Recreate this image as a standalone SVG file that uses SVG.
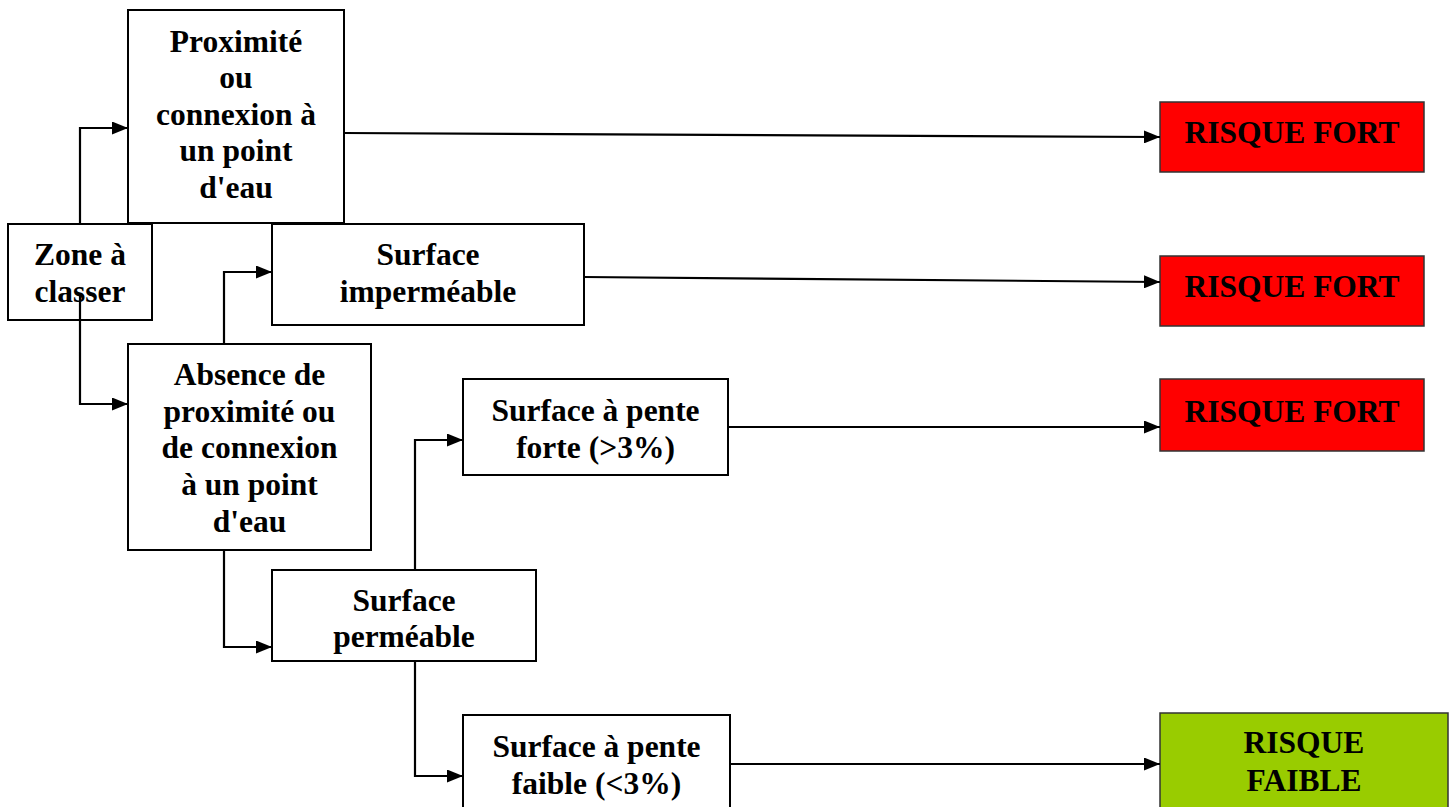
<svg xmlns="http://www.w3.org/2000/svg" width="1454" height="807" viewBox="0 0 1454 807">
<defs>
<marker id="arr" markerWidth="16" markerHeight="13" refX="16" refY="6.5" orient="auto" markerUnits="userSpaceOnUse">
<path d="M0,0 L16,6.5 L0,13 Z" fill="#000"/>
</marker>
<style>
.box{fill:#fff;stroke:#000;stroke-width:2}
.red{fill:#ff0000;stroke:#333;stroke-width:1.5}
.green{fill:#99cc00;stroke:#333;stroke-width:1.5}
text{font-family:"Liberation Serif","Times New Roman",serif;font-weight:bold;font-size:31.5px;fill:#000;text-anchor:middle}
.c{fill:none;stroke:#000;stroke-width:2.2}
</style>
</defs>
<rect width="1454" height="807" fill="#fff"/>
<g id="proximite">
<rect class="box" x="128" y="10" width="216" height="213"/>
<text x="236" y="52">Proximité</text>
<text x="236" y="88">ou</text>
<text x="236" y="125">connexion à</text>
<text x="236" y="161">un point</text>
<text x="236" y="198">d'eau</text>
</g>
<g id="zone">
<rect class="box" x="8" y="224" width="144" height="96"/>
<text x="80" y="265">Zone à</text>
<text x="80" y="302">classer</text>
</g>
<g id="impermeable">
<rect class="box" x="272" y="224" width="312" height="101"/>
<text x="428" y="265">Surface</text>
<text x="428" y="302">imperméable</text>
</g>
<g id="absence">
<rect class="box" x="128" y="344" width="243" height="206"/>
<text x="249.5" y="385">Absence de</text>
<text x="249.5" y="422">proximité ou</text>
<text x="249.5" y="458">de connexion</text>
<text x="249.5" y="495">à un point</text>
<text x="249.5" y="532">d'eau</text>
</g>
<g id="pente-forte">
<rect class="box" x="463" y="379" width="265" height="96"/>
<text x="595.5" y="421">Surface à pente</text>
<text x="595.5" y="458">forte (&gt;3%)</text>
</g>
<g id="permeable">
<rect class="box" x="272" y="570" width="264" height="91"/>
<text x="404" y="611">Surface</text>
<text x="404" y="647">perméable</text>
</g>
<g id="pente-faible">
<rect class="box" x="463" y="715" width="267" height="100"/>
<text x="596.5" y="757">Surface à pente</text>
<text x="596.5" y="794">faible (&lt;3%)</text>
</g>
<g id="risque-fort-1">
<rect class="red" x="1160" y="102" width="264" height="70"/>
<text x="1292" y="143">RISQUE FORT</text>
</g>
<g id="risque-fort-2">
<rect class="red" x="1160" y="256" width="264" height="70"/>
<text x="1292" y="297">RISQUE FORT</text>
</g>
<g id="risque-fort-3">
<rect class="red" x="1160" y="379" width="264" height="72"/>
<text x="1292" y="422">RISQUE FORT</text>
</g>
<g id="risque-faible">
<rect class="green" x="1160" y="713" width="288" height="100"/>
<text x="1304" y="753">RISQUE</text>
<text x="1304" y="791">FAIBLE</text>
</g>
<g id="connectors">
<path class="c" d="M80,224 V128 H128" marker-end="url(#arr)"/>
<path class="c" d="M80,296 V404 H128" marker-end="url(#arr)"/>
<path class="c" d="M224,344 V272 H272" marker-end="url(#arr)"/>
<path class="c" d="M224,550 V647 H272" marker-end="url(#arr)"/>
<path class="c" d="M415,570 V440 H463" marker-end="url(#arr)"/>
<path class="c" d="M415,662 V776 H463" marker-end="url(#arr)"/>
<path class="c" d="M344,133 L1160,137" marker-end="url(#arr)"/>
<path class="c" d="M584,277 L1160,282" marker-end="url(#arr)"/>
<path class="c" d="M728,427 L1160,427" marker-end="url(#arr)"/>
<path class="c" d="M730,764 L1160,764" marker-end="url(#arr)"/>
</g>
</svg>
